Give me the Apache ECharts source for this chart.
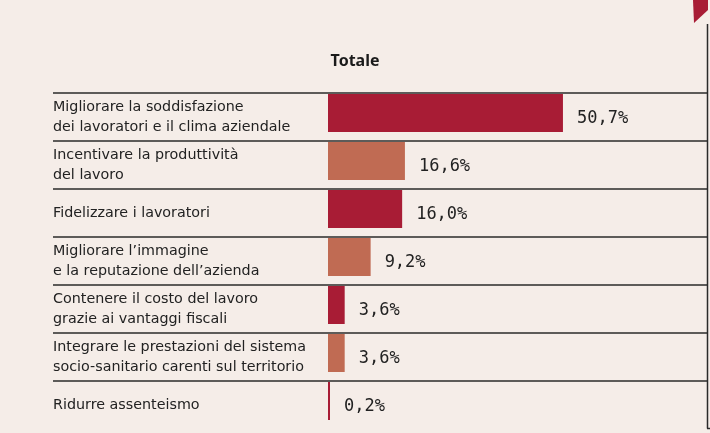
<!DOCTYPE html>
<html>
<head>
<meta charset="utf-8">
<script src="https://cdn.jsdelivr.net/npm/echarts@6/dist/echarts.min.js"></script>
<style>
html,body{margin:0;padding:0;background:#f5ede8;}
#c{width:710px;height:433px;}
</style>
</head>
<body>
<div id="c"></div>
<script>
const categories = [
  "Migliorare la soddisfazione\ndei lavoratori e il clima aziendale",
  "Incentivare la produttività\ndel lavoro",
  "Fidelizzare i lavoratori",
  "Migliorare l’immagine\ne la reputazione dell’azienda",
  "Contenere il costo del lavoro\ngrazie ai vantaggi fiscali",
  "Integrare le prestazioni del sistema\nsocio-sanitario carenti sul territorio",
  "Ridurre assenteismo"
];
const values = [50.7, 16.6, 16.0, 9.2, 3.6, 3.6, 0.2];
const title = "Totale";

const RED = '#a81c35', SALMON = '#c06b53';
const axisCats = categories.concat(['']);
const barData = values.map((v, i) => ({
  value: v,
  itemStyle: { color: i % 2 === 0 ? RED : SALMON }
}));

const chart = echarts.init(document.getElementById('c'), null, { renderer: 'canvas' });
chart.setOption({
  backgroundColor: '#f5ede8',
  animation: false,
  title: {
    text: title, left: 'center', top: 48,
    textStyle: { fontFamily: 'Noto Sans', fontWeight: 'bold', fontSize: 16, color: '#1a1a1a' }
  },
  grid: [
    { left: 328, width: 380, top: 89, height: 384, containLabel: false, outerBoundsMode: 'none' },
    { left: 53, width: 655, top: 93, height: 384, containLabel: false, outerBoundsMode: 'none' }
  ],
  xAxis: [
    { gridIndex: 0, type: 'value', min: 0, max: 82, show: false },
    { gridIndex: 1, type: 'value', min: 0, max: 1, show: false }
  ],
  yAxis: [
    { gridIndex: 0, type: 'category', inverse: true, data: axisCats, show: false },
    {
      gridIndex: 1, type: 'category', inverse: true, data: axisCats,
      axisLine: { show: false }, axisTick: { show: false },
      axisLabel: {
        inside: true, margin: 0, align: 'left',
        fontFamily: 'DejaVu Sans', fontSize: 14.3, lineHeight: 20, color: '#222'
      },
      splitLine: {
        show: true,
        interval: function (i) { return i < 7; },
        lineStyle: { color: '#2a2a2a', width: 1.5 }
      }
    }
  ],
  series: [{
    type: 'bar', xAxisIndex: 0, yAxisIndex: 0,
    data: barData, barWidth: 38, barMinHeight: 2,
    label: {
      show: true, position: 'right', distance: 14, offset: [0, 6],
      formatter: p => p.value.toFixed(1).replace('.', ',') + '%',
      fontFamily: 'DejaVu Sans Mono', fontSize: 17, color: '#222'
    }
  }],
  graphic: [
    { type: 'polygon', shape: { points: [[693, 0], [708, 0], [708, 10], [694, 23]] }, style: { fill: RED } },
    { type: 'line', shape: { x1: 707.5, y1: 24, x2: 707.5, y2: 428.5 }, style: { stroke: '#2a2a2a', lineWidth: 1.5 } },
    { type: 'line', shape: { x1: 707, y1: 428.5, x2: 710, y2: 428.5 }, style: { stroke: '#2a2a2a', lineWidth: 1.5 } }
  ]
});
</script>
</body>
</html>
